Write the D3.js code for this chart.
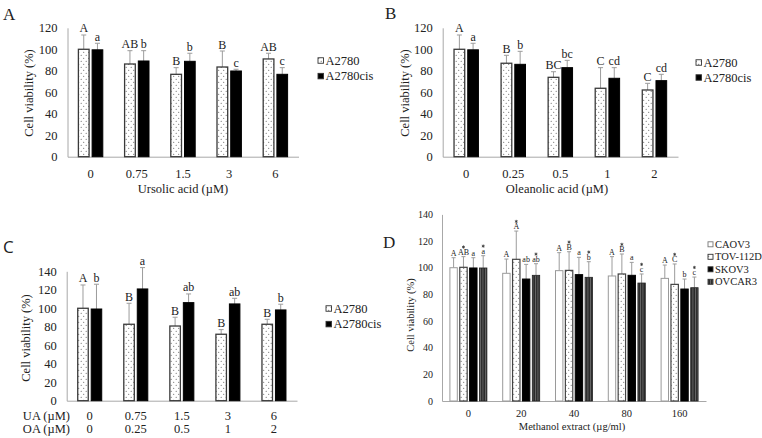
<!DOCTYPE html>
<html><head><meta charset="utf-8">
<script src="https://cdn.jsdelivr.net/npm/d3@7"></script>
<style>
html,body{margin:0;padding:0;background:#fff;}
svg{display:block;}
</style></head>
<body>
<svg id="chart" width="762" height="438"></svg>
<script>
// ---------- DATA ----------
const seriesAB = ["A2780", "A2780cis"];

// Panel A: Ursolic acid
const catsA = ["0", "0.75", "1.5", "3", "6"];
const a_A2780 = [100, 86.3, 76.7, 83.5, 91];
const a_A2780_err = [13.3, 12.4, 6.2, 14.9, 5.3];
const a_cis = [99.5, 89.1, 88.8, 79.8, 76.7];
const a_cis_err = [6.1, 9.6, 7.5, 1.6, 6.2];
const a_A2780_lbl = ["A", "AB", "B", "B", "AB"];
const a_cis_lbl = ["a", "b", "b", "c", "c"];

// Panel B: Oleanolic acid
const catsB = ["0", "0.25", "0.5", "1", "2"];
const b_A2780 = [100, 87, 73.9, 63.7, 62.1];
const b_A2780_err = [13.3, 7.4, 5.2, 19.2, 6.2];
const b_cis = [99.5, 86, 82.9, 73, 70.8];
const b_cis_err = [6.1, 12.1, 6.8, 9.9, 5.9];
const b_A2780_lbl = ["A", "B", "BC", "C", "C"];
const b_cis_lbl = ["a", "b", "bc", "cd", "cd"];

// Panel C: UA + OA
const catsUA = ["0", "0.75", "1.5", "3", "6"];
const catsOA = ["0", "0.25", "0.5", "1", "2"];
const c_A2780 = [100, 82.7, 80.8, 71.9, 82.7];
const c_A2780_err = [25.2, 22.7, 9.5, 5, 5.4];
const c_cis = [99.2, 120.9, 106.1, 104.7, 98.2];
const c_cis_err = [26.8, 23.1, 9.4, 6.1, 6.2];
const c_A2780_lbl = ["A", "B", "B", "B", "B"];
const c_cis_lbl = ["b", "a", "ab", "ab", "b"];

// Panel D: Methanol extract
const catsD = ["0", "20", "40", "80", "160"];
const seriesD = ["CAOV3", "TOV-112D", "SKOV3", "OVCAR3"];
const d_CAOV3 = [100, 95.8, 97.8, 93.8, 92];
const d_CAOV3_err = [7.5, 10.7, 13.5, 14.5, 10];
const d_TOV = [100.3, 106.3, 98, 95.3, 87.5];
const d_TOV_err = [8, 21.2, 14, 15, 15.3];
const d_SKOV3 = [99.8, 91.5, 94.8, 94.3, 84];
const d_SKOV3_err = [7.7, 11, 13, 9.7, 7.5];
const d_OVCAR3 = [99.8, 94.3, 92.8, 88.5, 85];
const d_OVCAR3_err = [9.2, 8.7, 11.7, 6.8, 8];
const d_CAOV3_lbl = ["A", "A", "A", "A", "A"];
const d_TOV_lbl = ["AB", "A", "B", "B", "C"];
const d_SKOV3_lbl = ["a", "ab", "a", "a", "b"];
const d_OVCAR3_lbl = ["a", "ab", "b", "c", "c"];
const d_star = [false, true, false, true];

const yTicksAB = [0, 20, 40, 60, 80, 100, 120];
const yTicksCD = [0, 20, 40, 60, 80, 100, 120, 140];

// ---------- SETUP ----------
const SERIF = "'Liberation Serif', 'Times New Roman', serif";
const svg = d3.select("#chart");
const defs = svg.append("defs");

function dotPattern(id) {
  const p = defs.append("pattern").attr("id", id).attr("patternUnits", "userSpaceOnUse")
    .attr("width", 5).attr("height", 6);
  p.append("rect").attr("width", 5).attr("height", 6).attr("fill", "#fff");
  p.append("circle").attr("cx", 1.2).attr("cy", 1.2).attr("r", 0.55).attr("fill", "#555");
  p.append("circle").attr("cx", 3.7).attr("cy", 4.2).attr("r", 0.55).attr("fill", "#555");
}
dotPattern("dots");
(function () {
  const p = defs.append("pattern").attr("id", "vstripe").attr("patternUnits", "userSpaceOnUse")
    .attr("width", 2.5).attr("height", 4);
  p.append("rect").attr("width", 2.5).attr("height", 4).attr("fill", "#2b2b2b");
  p.append("rect").attr("x", 0).attr("width", 0.9).attr("height", 4).attr("fill", "#6a6a6a");
})();

const styleAB = [
  { fill: "url(#dots)", stroke: "#3a3a3a", sw: 1.3 },
  { fill: "#000", stroke: "#000", sw: 1 }
];
const styleD = [
  { fill: "#fff", stroke: "#9a9a9a", sw: 1 },
  { fill: "url(#dots)", stroke: "#444", sw: 1.2 },
  { fill: "#000", stroke: "#000", sw: 1 },
  { fill: "url(#vstripe)", stroke: "#222", sw: 0.8 }
];

function txt(sel, size, family) {
  return sel.style("font-family", family || SERIF).style("font-size", size + "px").style("fill", "#222");
}
const starPath = d3.symbol().type(d3.symbolAsterisk).size(7)();

function panel(cfg) {
  const g = svg.append("g");
  const x = d3.scaleBand().domain(cfg.cats).range([cfg.x0, cfg.x1]).paddingInner(0).paddingOuter(0);
  const y = d3.scaleLinear().domain([0, cfg.ymax]).range([cfg.base, cfg.yTop]);
  const half = cfg.groupHalf;
  const n = cfg.series.length;

  // y axis
  const ya = g.append("g").attr("transform", `translate(${cfg.x0},0)`)
    .call(d3.axisLeft(y).tickValues(cfg.yTicks).tickSize(0).tickSizeOuter(0).tickPadding(cfg.yPad));
  ya.select(".domain").attr("stroke", "#a8a8a8");
  txt(ya.selectAll("text"), cfg.fs);

  // x axis
  const xa = g.append("g").attr("transform", `translate(0,${cfg.base})`)
    .call(d3.axisBottom(x).tickSize(0).tickSizeOuter(0).tickPadding(cfg.xPad));
  xa.select(".domain").attr("stroke", "#a8a8a8");
  txt(xa.selectAll("text"), cfg.xfs || cfg.fs);

  // bars
  cfg.cats.forEach((c, i) => {
    const cx = x(c) + x.bandwidth() / 2;
    const xs = d3.scaleBand().domain(d3.range(n)).range([cx - half, cx + half]).paddingInner(cfg.innerPad);
    cfg.series.forEach((s, k) => {
      const v = cfg.values[k][i], e = cfg.errs[k][i];
      const st = cfg.styles[k];
      const bx = xs(k), bw = xs.bandwidth(), mx = bx + bw / 2;
      g.append("line").attr("x1", mx).attr("x2", mx).attr("y1", y(v)).attr("y2", y(v + e))
        .attr("stroke", "#9c9c9c").attr("stroke-width", 1);
      g.append("line").attr("x1", mx - cfg.cap).attr("x2", mx + cfg.cap).attr("y1", y(v + e)).attr("y2", y(v + e))
        .attr("stroke", "#9c9c9c").attr("stroke-width", 1);
      g.append("rect").attr("x", bx).attr("y", y(v)).attr("width", bw).attr("height", y(0) - y(v))
        .attr("fill", st.fill).attr("stroke", st.stroke).attr("stroke-width", st.sw);
      const ly = y(v + e) - cfg.lblGap;
      txt(g.append("text").attr("x", mx).attr("y", ly).attr("text-anchor", "middle"), cfg.lfs)
        .text(cfg.labels[k][i]);
      if (cfg.stars && cfg.stars[k]) {
        g.append("path").attr("d", starPath)
          .attr("transform", `translate(${mx},${ly - cfg.lfs * 0.95})`)
          .attr("stroke", "#333").attr("stroke-width", 0.8).attr("fill", "none");
      }
    });
  });

  // y title
  txt(g.append("text").attr("transform", `translate(${cfg.ytx},${cfg.yty}) rotate(-90)`)
    .attr("text-anchor", "middle"), cfg.tfs).text("Cell viability (%)");
  // x title
  if (cfg.xTitle) {
    txt(g.append("text").attr("x", cfg.xtx).attr("y", cfg.xty).attr("text-anchor", "middle"), cfg.tfs)
      .text(cfg.xTitle);
  }
  // legend
  cfg.series.forEach((s, k) => {
    const ly = cfg.legY + k * cfg.legStep;
    g.append("rect").attr("x", cfg.legX).attr("y", ly - cfg.legBox / 2).attr("width", cfg.legBox).attr("height", cfg.legBox)
      .attr("fill", cfg.styles[k].fill).attr("stroke", cfg.styles[k].stroke === "#9a9a9a" ? "#777" : "#333").attr("stroke-width", 0.9);
    txt(g.append("text").attr("x", cfg.legX + cfg.legBox + 2).attr("y", ly).attr("dy", "0.35em"), cfg.legFs).text(s);
  });
  // panel letter
  txt(g.append("text").attr("x", cfg.pl[0]).attr("y", cfg.pl[1]), 17, cfg.plFont).text(cfg.pl[2]);
  return { g, x };
}

// Panel A
panel({
  cats: catsA, series: seriesAB, values: [a_A2780, a_cis], errs: [a_A2780_err, a_cis_err],
  labels: [a_A2780_lbl, a_cis_lbl], styles: styleAB,
  x0: 67.5, x1: 298.5, base: 156.7, yTop: 27.8, ymax: 120, yTicks: yTicksAB,
  groupHalf: 12.2, innerPad: 0.22, cap: 2.5, fs: 12.5, yPad: 10, xPad: 12, lfs: 12, lblGap: 2.5,
  tfs: 12.5, ytx: 33, yty: 93, xTitle: "Ursolic acid (\u00b5M)", xtx: 183, xty: 193,
  legX: 318, legY: 60.5, legStep: 15.6, legBox: 5.5, legFs: 12.5, pl: [3, 20, "A"]
});

// Panel B
panel({
  cats: catsB, series: seriesAB, values: [b_A2780, b_cis], errs: [b_A2780_err, b_cis_err],
  labels: [b_A2780_lbl, b_cis_lbl], styles: styleAB,
  x0: 442.7, x1: 678, base: 156.7, yTop: 27.8, ymax: 120, yTicks: yTicksAB,
  groupHalf: 12.2, innerPad: 0.22, cap: 2.5, fs: 12.5, yPad: 10, xPad: 12, lfs: 12, lblGap: 2.5,
  tfs: 12.5, ytx: 409, yty: 93, xTitle: "Oleanolic acid (\u00b5M)", xtx: 557, xty: 193,
  legX: 696, legY: 62.5, legStep: 15, legBox: 5.5, legFs: 12.5, pl: [385, 18.5, "B"]
});

// Panel C
const pc = panel({
  cats: catsUA, series: seriesAB, values: [c_A2780, c_cis], errs: [c_A2780_err, c_cis_err],
  labels: [c_A2780_lbl, c_cis_lbl], styles: styleAB,
  x0: 66.7, x1: 297, base: 400.7, yTop: 271.3, ymax: 140, yTicks: yTicksCD,
  groupHalf: 12, innerPad: 0.22, cap: 2.5, fs: 12.5, yPad: 10, xPad: 10, lfs: 12, lblGap: 2.5,
  tfs: 12.5, ytx: 30, yty: 338, xTitle: null,
  legX: 326, legY: 308.5, legStep: 15.6, legBox: 5.5, legFs: 12.5, pl: [3, 253, "C"], plFont: "'Open Sans', sans-serif"
});
const oaAxis = pc.g.append("g").attr("transform", "translate(0,413.7)")
  .call(d3.axisBottom(pc.x).tickSize(0).tickPadding(10).tickFormat((d, i) => catsOA[i]));
oaAxis.select(".domain").remove();
txt(oaAxis.selectAll("text"), 12.5);
txt(pc.g.append("text").attr("x", 70).attr("y", 419.5).attr("text-anchor", "end"), 12.5).text("UA (\u00b5M)");
txt(pc.g.append("text").attr("x", 70).attr("y", 432.5).attr("text-anchor", "end"), 12.5).text("OA (\u00b5M)");

// Panel D
panel({
  cats: catsD, series: seriesD, values: [d_CAOV3, d_TOV, d_SKOV3, d_OVCAR3],
  errs: [d_CAOV3_err, d_TOV_err, d_SKOV3_err, d_OVCAR3_err],
  labels: [d_CAOV3_lbl, d_TOV_lbl, d_SKOV3_lbl, d_OVCAR3_lbl], styles: styleD, stars: d_star,
  x0: 442, x1: 706, base: 401, yTop: 214.4, ymax: 140, yTicks: yTicksCD,
  groupHalf: 18.5, innerPad: 0.25, cap: 2, fs: 10, xfs: 10.5, yPad: 9, xPad: 9, lfs: 8, lblGap: 2,
  tfs: 10.5, ytx: 414, yty: 315, xTitle: "Methanol extract (\u00b5g/ml)", xtx: 572, xty: 430,
  legX: 708, legY: 244.3, legStep: 12.5, legBox: 5, legFs: 10.5, pl: [383, 248, "D"]
});
</script>
</body></html>
